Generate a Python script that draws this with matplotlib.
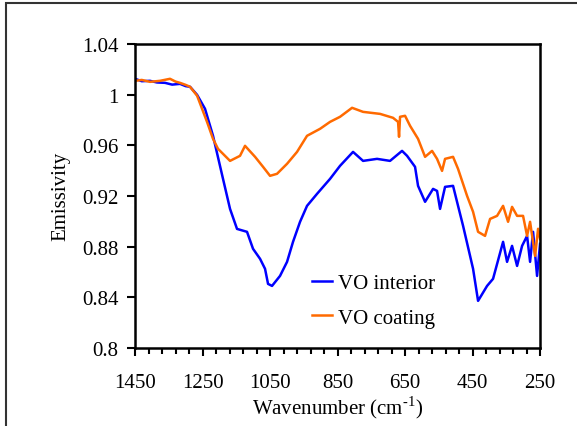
import matplotlib
matplotlib.use("Agg")
import matplotlib.pyplot as plt
from matplotlib.patches import Rectangle

plt.rcParams['font.family'] = ['Liberation Serif', 'DejaVu Serif']
plt.rcParams['mathtext.fontset'] = 'custom'
plt.rcParams['mathtext.rm'] = 'Liberation Serif'

# VO interior
onda_interior = [1450, 1430, 1405.6, 1385, 1361, 1340, 1316.7, 1300, 1287, 1266, 1242.6, 1218.9, 1189.3, 1168.5,
                 1147.8, 1118.2, 1100.4, 1079.6, 1064.8, 1055.9, 1044.1, 1020.4, 999.6, 981.9,
                 961.1, 940.4, 910.7, 872.2, 842.6, 804.1, 774.4, 733, 694.5, 658.9,
                 644.1, 620.4, 611.5, 590.7, 567, 555.2, 546.3, 531.5, 507.8, 493,
                 478.1, 457.4, 448.5, 433.7, 407, 389.3, 359.6, 347.8, 333, 318.1,
                 303.3, 288.5, 279.6, 270.7, 258.9, 250]
emis_interior = [1.0124, 1.0105, 1.0108, 1.0095, 1.0092, 1.0078, 1.0084, 1.0066, 1.0061, 0.9997, 0.9887, 0.9674, 0.9334, 0.9097,
                 0.8939, 0.8916, 0.8782, 0.8703, 0.8624, 0.8505, 0.8489, 0.8568, 0.8679, 0.8837,
                 0.8995, 0.9121, 0.9216, 0.9334, 0.9437, 0.9547, 0.9476, 0.9492, 0.9476, 0.9555,
                 0.9516, 0.9429, 0.9279, 0.9153, 0.9255, 0.9239, 0.9097, 0.9271, 0.9279, 0.9121,
                 0.8963, 0.8726, 0.8624, 0.8371, 0.8489, 0.8545, 0.8837, 0.8679, 0.8805, 0.8647,
                 0.8805, 0.8884, 0.8679, 0.8916, 0.8568, 0.8821]

# VO coating
onda_coating = [1450, 1430, 1405.6, 1376, 1346.3, 1330, 1316.7, 1300, 1287, 1266, 1236.7, 1218.9, 1204.1,
                1168.5, 1138.9, 1124.1, 1094.4, 1070.7, 1050, 1029.3, 999.6, 970, 940.4,
                901.9, 872.2, 842.6, 807, 774.4, 724, 685.6, 670.7, 667.8, 664.8,
                650, 635.2, 611.5, 590.7, 570, 555.2, 540.4, 531.5, 507.8, 493,
                466.3, 448.5, 433.7, 413, 398.1, 377.4, 359.6, 344.8, 333, 318.1,
                300.4, 288.5, 279.6, 264.8, 255.9, 250]
emis_coating = [1.0108, 1.0115, 1.01, 1.0108, 1.0124, 1.0102, 1.0092, 1.0076, 1.0061, 0.999, 0.9784, 0.965, 0.9571,
                0.9476, 0.9516, 0.9595, 0.9508, 0.9429, 0.9358, 0.9374, 0.9453, 0.9547, 0.9674,
                0.9729, 0.9784, 0.9824, 0.9895, 0.9863, 0.9847, 0.9816, 0.9784, 0.9666, 0.9824,
                0.9832, 0.9753, 0.965, 0.9508, 0.9555, 0.9492, 0.9397, 0.9492, 0.9508, 0.9413,
                0.92, 0.9074, 0.8916, 0.8884, 0.9018, 0.9042, 0.9121, 0.8995, 0.9113, 0.9042,
                0.9042, 0.8884, 0.8995, 0.8726, 0.894, 0.886]

ticks_x = [1450, 1250, 1050, 850, 650, 450, 250]
ticks_y = [0.8, 0.84, 0.88, 0.92, 0.96, 1, 1.04]
rotulos_y = ['0.8', '0.84', '0.88', '0.92', '0.96', '1', '1.04']

fig = plt.figure(figsize=(5.77, 4.27), dpi=100)
ax = fig.add_axes([0.234, 0.183, 0.702, 0.712])

ax.plot(onda_interior, emis_interior, color='#0000ff', lw=1.8, label='VO interior')
ax.plot(onda_coating, emis_coating, color='#ff6a00', lw=1.8, label='VO coating')

ax.set_xlim(1450, 250)
ax.set_ylim(0.8, 1.04)
ax.set_xticks(ticks_x)
ax.set_xticks(range(250, 1451, 40), minor=True)
ax.set_yticks(ticks_y)
ax.set_yticklabels(rotulos_y)
ax.tick_params(axis='both', which='major', labelsize=15, length=6, width=1.5, direction='out')
ax.tick_params(axis='x', which='minor', length=4, width=1.5, direction='out')
ax.tick_params(axis='x', pad=12)
ax.tick_params(axis='y', pad=6)
for s in ax.spines.values():
    s.set_linewidth(1.8)

ax.set_xlabel('Wavenumber (cm$^{\\text{-1}}$)', fontsize=15, labelpad=1)
ax.set_ylabel('Emissivity', fontsize=15, labelpad=8)

ax.legend(loc='center', bbox_to_anchor=(0.588, 0.155), frameon=False, fontsize=15,
          handlelength=1.0, handletextpad=0.25, labelspacing=0.7)

fig.patches.append(Rectangle((6 / 577, -0.1), 1.2, 1 - 4 / 427 + 0.1, transform=fig.transFigure,
                             fill=False, edgecolor='#333333', lw=1.5))

fig.savefig('out.png', dpi=100)
